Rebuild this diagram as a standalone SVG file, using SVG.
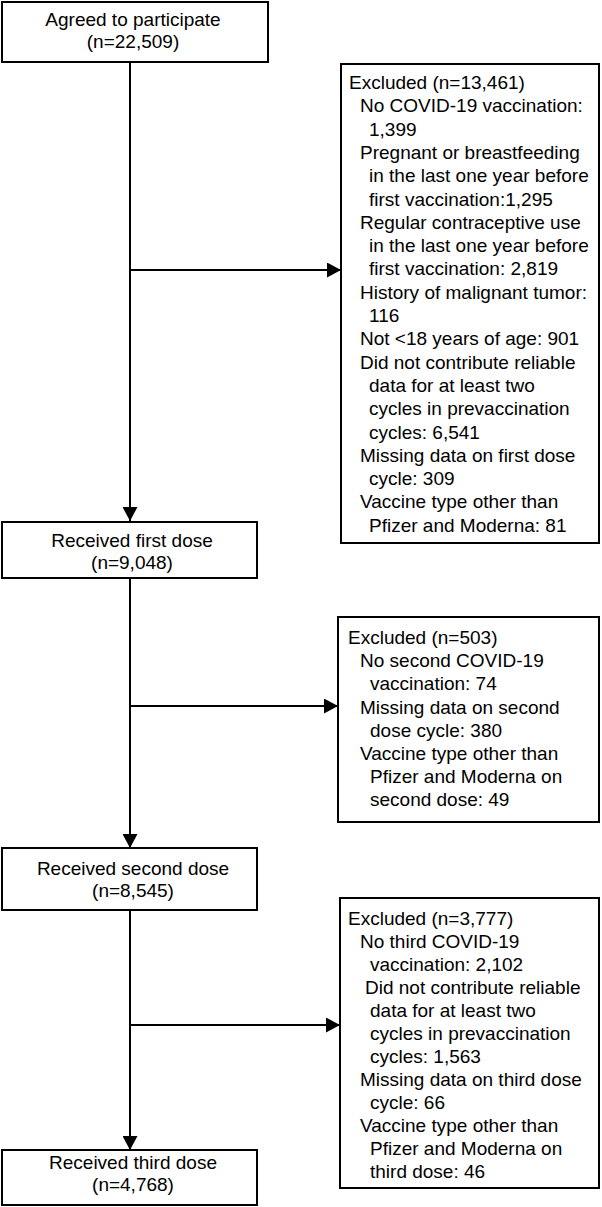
<svg xmlns="http://www.w3.org/2000/svg" width="602" height="1207" viewBox="0 0 602 1207">
<defs>
<marker id="ah" viewBox="0 0 14 15" refX="14" refY="7.5" markerWidth="14" markerHeight="15" markerUnits="userSpaceOnUse" orient="auto"><path d="M0,0 L14,7.5 L0,15 z" fill="#000"/></marker>
</defs>
<style>
.box{fill:#fff;stroke:#000;stroke-width:2}
text{font-family:"Liberation Sans",Arial,Helvetica,sans-serif;font-size:19px;fill:#000}
.c{text-anchor:middle}
.ln{stroke:#000;stroke-width:2;fill:none}
</style>
<g id="connectors">
<path class="ln" d="M130,62 V521" marker-end="url(#ah)"/>
<path class="ln" d="M130,270 H341" marker-end="url(#ah)"/>
<path class="ln" d="M130,578 V848" marker-end="url(#ah)"/>
<path class="ln" d="M130,706 H338" marker-end="url(#ah)"/>
<path class="ln" d="M130,910 V1150" marker-end="url(#ah)"/>
<path class="ln" d="M130,1025 H340" marker-end="url(#ah)"/>
</g>
<g id="agreed">
<rect class="box" x="2" y="2" width="266" height="60"/>
<text class="c" x="133" y="26">Agreed to participate</text>
<text class="c" x="133" y="48">(n=22,509)</text>
</g>
<g id="excluded1">
<rect class="box" x="341" y="64" width="258" height="479"/>
<text x="349" y="89">Excluded (n=13,461)</text>
<text x="360" y="112.3">No COVID-19 vaccination:</text>
<text x="369" y="135.6">1,399</text>
<text x="360" y="158.9">Pregnant or breastfeeding</text>
<text x="369" y="182.2">in the last one year before</text>
<text x="369" y="205.5">first vaccination:1,295</text>
<text x="360" y="228.8">Regular contraceptive use</text>
<text x="369" y="252.1">in the last one year before</text>
<text x="369" y="275.4">first vaccination: 2,819</text>
<text x="360" y="298.7">History of malignant tumor:</text>
<text x="369" y="322">116</text>
<text x="360" y="345.3">Not &lt;18 years of age: 901</text>
<text x="360" y="368.6">Did not contribute reliable</text>
<text x="369" y="391.9">data for at least two</text>
<text x="369" y="415.2">cycles in prevaccination</text>
<text x="369" y="438.5">cycles: 6,541</text>
<text x="360" y="461.8">Missing data on first dose</text>
<text x="369" y="485.1">cycle: 309</text>
<text x="360" y="508.4">Vaccine type other than</text>
<text x="369" y="531.7">Pfizer and Moderna: 81</text>
</g>
<g id="first">
<rect class="box" x="2" y="522" width="255" height="56"/>
<text class="c" x="132" y="547">Received first dose</text>
<text class="c" x="132" y="569">(n=9,048)</text>
</g>
<g id="excluded2">
<rect class="box" x="338" y="617" width="261" height="205"/>
<text x="348" y="644">Excluded (n=503)</text>
<text x="360" y="667.2">No second COVID-19</text>
<text x="370" y="690.4">vaccination: 74</text>
<text x="360" y="713.6">Missing data on second</text>
<text x="370" y="736.8">dose cycle: 380</text>
<text x="360" y="760">Vaccine type other than</text>
<text x="370" y="783.2">Pfizer and Moderna on</text>
<text x="370" y="806.4">second dose: 49</text>
</g>
<g id="second">
<rect class="box" x="2" y="848" width="255" height="62"/>
<text class="c" x="133" y="875">Received second dose</text>
<text class="c" x="133" y="897">(n=8,545)</text>
</g>
<g id="excluded3">
<rect class="box" x="340" y="898" width="259" height="290"/>
<text x="348" y="925">Excluded (n=3,777)</text>
<text x="360" y="948">No third COVID-19</text>
<text x="370" y="971">vaccination: 2,102</text>
<text x="365" y="994">Did not contribute reliable</text>
<text x="370" y="1017">data for at least two</text>
<text x="370" y="1040">cycles in prevaccination</text>
<text x="370" y="1063">cycles: 1,563</text>
<text x="360" y="1086">Missing data on third dose</text>
<text x="370" y="1109">cycle: 66</text>
<text x="360" y="1132">Vaccine type other than</text>
<text x="370" y="1155">Pfizer and Moderna on</text>
<text x="370" y="1178">third dose: 46</text>
</g>
<g id="third">
<rect class="box" x="2" y="1150" width="255" height="55"/>
<text class="c" x="133" y="1169">Received third dose</text>
<text class="c" x="133" y="1191">(n=4,768)</text>
</g>
</svg>
